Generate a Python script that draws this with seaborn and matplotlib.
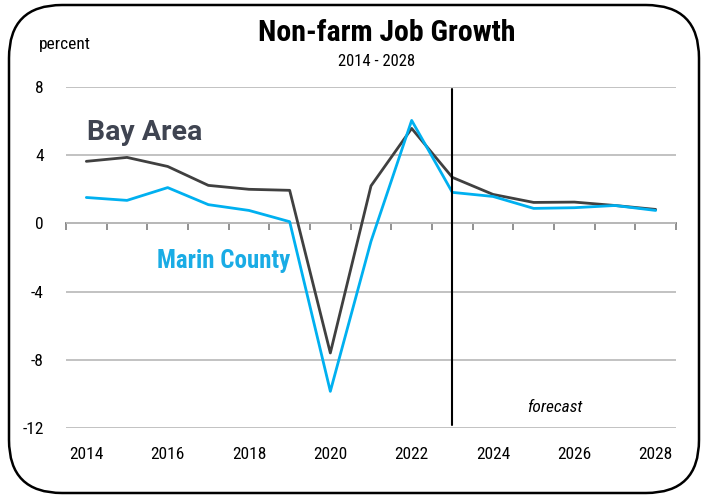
import matplotlib
matplotlib.use("Agg")
import matplotlib.pyplot as plt
from matplotlib.patches import FancyBboxPatch
import seaborn as sns
import pandas as pd
import numpy as np

years = list(range(2014, 2029))
bay_area = [3.64, 3.87, 3.34, 2.23, 2.0, 1.94, -7.6, 2.2, 5.57, 2.7, 1.7, 1.23, 1.25, 1.05, 0.82]
marin = [1.52, 1.35, 2.1, 1.1, 0.76, 0.1, -9.85, -1.05, 6.04, 1.82, 1.58, 0.88, 0.92, 1.05, 0.76]
series_names = ["Bay Area", "Marin County"]
y_ticks = [-12, -8, -4, 0, 4, 8]
x_tick_labels = [2014, 2016, 2018, 2020, 2022, 2024, 2026, 2028]
forecast_year = 2023

df = pd.DataFrame({
    "year": years * 2,
    "value": bay_area + marin,
    "series": [series_names[0]] * len(years) + [series_names[1]] * len(years),
})

sns.set_theme(style="white")
plt.rcParams["font.family"] = ["Roboto Condensed", "Liberation Sans", "DejaVu Sans"]
plt.rcParams["text.color"] = "black"
plt.rcParams["xtick.color"] = "black"
plt.rcParams["ytick.color"] = "black"

fig = plt.figure(figsize=(7.07, 4.99), dpi=100)
ax = fig.add_axes([66 / 707, 1 - 428 / 499, 610 / 707, 341 / 499])

# rounded border around figure
border = FancyBboxPatch((9 / 707, 6 / 499), 690 / 707, 488 / 499,
                        boxstyle="round,pad=0,rounding_size=0.075",
                        transform=fig.transFigure, fill=False,
                        edgecolor="black", linewidth=1.8, mutation_aspect=707 / 499)
fig.patches.append(border)

palette = {"Bay Area": "#404040", "Marin County": "#00B0F0"}
sns.lineplot(data=df, x="year", y="value", hue="series", palette=palette,
             linewidth=2.0, ax=ax, legend=False, zorder=3)

ax.set_xlim(2013.5, 2028.5)
ax.set_ylim(-12, 8)
ax.set_yticks(y_ticks)
ax.set_yticklabels([str(v) for v in y_ticks], fontsize=12.5, color="black")
ax.set_xticks(x_tick_labels)
ax.set_xticklabels([str(v) for v in x_tick_labels], fontsize=12.5, color="black")
ax.tick_params(axis="both", length=0)
ax.tick_params(axis="y", pad=16)
ax.tick_params(axis="x", pad=14)
ax.set_xlabel("")
ax.set_ylabel("")
for s in ax.spines.values():
    s.set_visible(False)
ax.grid(axis="y", color="#bdbdbd", linewidth=1.3)
ax.grid(axis="x", visible=False)
ax.set_axisbelow(True)

# zero axis with category boundary ticks
sec = ax.secondary_xaxis(12 / 20)
sec.set_xticks(np.arange(2013.5, 2029, 1.0))
sec.tick_params(axis="x", direction="out", length=5, width=1.2, color="#7f7f7f",
                labelbottom=False, labeltop=False, bottom=True, top=False)
sec.xaxis.set_ticks_position("bottom")
sec.set_xticklabels([])
for name, s in sec.spines.items():
    s.set_visible(name == "bottom")
sec.spines["bottom"].set_color("#7f7f7f")
sec.spines["bottom"].set_linewidth(1.3)

ax.axvline(forecast_year, ymin=0.01, ymax=0.995, color="black", linewidth=1.5, zorder=4)

fig.text(387 / 707, 1 - 33 / 499, "Non-farm Job Growth", ha="center", va="center",
         fontsize=21.5, fontweight="bold")
fig.text(377 / 707, 1 - 62 / 499, "2014 - 2028", ha="center", va="center", fontsize=12)
fig.text(39 / 707, 1 - 45 / 499, "percent", ha="left", va="center", fontsize=12.5)
fig.text(87 / 707, 1 - 133 / 499, "Bay Area", ha="left", va="center", fontsize=20.5,
         fontweight="bold", color="#3F4451", family=["Roboto", "DejaVu Sans"])
fig.text(157 / 707, 1 - 261 / 499, "Marin County", ha="left", va="center", fontsize=18,
         fontweight="bold", color="#1AACE5")
fig.text(555 / 707, 1 - 407 / 499, "forecast", ha="center", va="center", fontsize=12.5,
         style="italic")

fig.savefig("out.png", dpi=100)
